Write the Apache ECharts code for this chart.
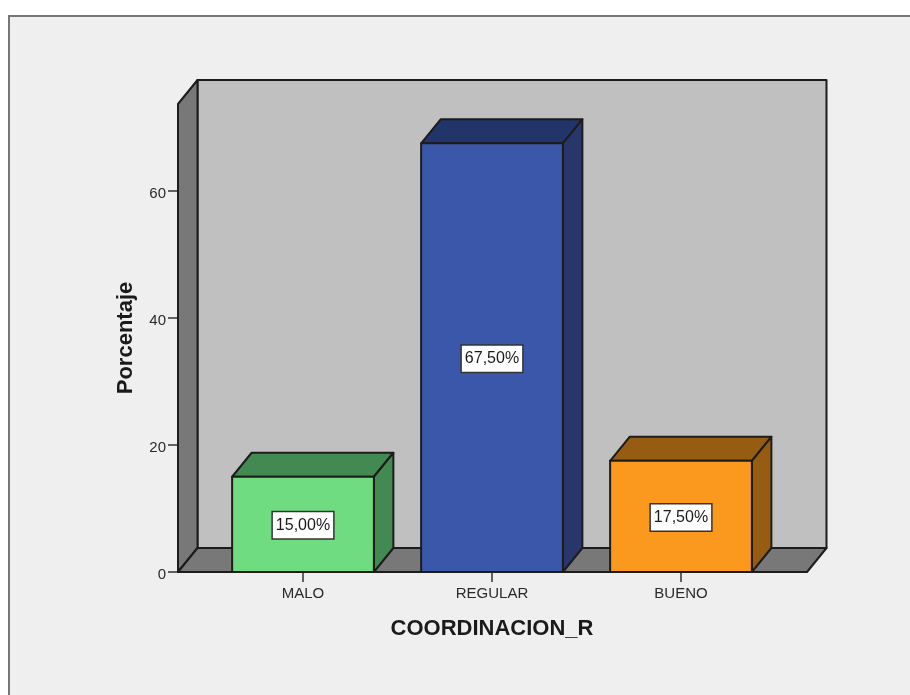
<!DOCTYPE html>
<html>
<head>
<meta charset="utf-8">
<style>html,body{margin:0;padding:0;background:#fff}#c{width:910px;height:695px}</style>
<script src="https://cdn.jsdelivr.net/npm/echarts@6/dist/echarts.min.js"></script>
</head>
<body>
<div id="c"></div>
<script>
var categories = ['MALO', 'REGULAR', 'BUENO'];
var percentages = [15.0, 67.5, 17.5];
var frontColors = ['#70dc82', '#3b57a9', '#fb991f'];
var topColors = ['#438a52', '#22356b', '#955c12'];
var sideColors = ['#438a52', '#28366b', '#955c12'];
var yTicks = [0, 20, 40, 60];
var yMax = 73.7;

var DX = 19.5, DY = -24, EDGE = '#1c1c1c', LW = 2;
var LEFT_EXT = 30.5, RIGHT_EXT = 31.5;

var chart = echarts.init(document.getElementById('c'), null, {renderer: 'canvas'});

function poly(pts, fill) {
  return {type: 'polygon', shape: {points: pts},
    style: {fill: fill, stroke: EDGE, lineWidth: LW, lineJoin: 'round'}};
}

function renderWalls(params, api) {
  var cs = params.coordSys;
  var x0 = cs.x - LEFT_EXT, x1 = cs.x + cs.width + RIGHT_EXT;
  var yT = cs.y, yB = cs.y + cs.height;
  return {type: 'group', children: [
    poly([[x0 + DX, yT + DY], [x1 + DX, yT + DY], [x1 + DX, yB + DY], [x0 + DX, yB + DY]], '#c0c0c0'),
    poly([[x0, yT], [x0 + DX, yT + DY], [x0 + DX, yB + DY], [x0, yB]], '#787878'),
    poly([[x0, yB], [x0 + DX, yB + DY], [x1 + DX, yB + DY], [x1, yB]], '#787878')
  ]};
}

function renderBar(params, api) {
  var i = api.value(0), v = api.value(1);
  var base = api.coord([i, 0]), top = api.coord([i, v]);
  var w = api.size([1, 0])[0] * 0.75;
  var l = base[0] - w / 2, r = base[0] + w / 2, yT = top[1], yB = base[1];
  return {type: 'group', children: [
    poly([[l, yT], [l + DX, yT + DY], [r + DX, yT + DY], [r, yT]], topColors[i]),
    poly([[r, yT], [r + DX, yT + DY], [r + DX, yB + DY], [r, yB]], sideColors[i]),
    poly([[l, yT], [r, yT], [r, yB], [l, yB]], frontColors[i]),
    {type: 'text', z2: 10, x: base[0], y: (yT + yB) / 2 + 1,
      style: {text: v.toFixed(2).replace('.', ',') + '%', align: 'center', verticalAlign: 'middle',
        font: '16px "Liberation Sans", Arial, sans-serif', fill: '#1a1a1a',
        backgroundColor: '#ffffff', borderColor: '#333333', borderWidth: 1.5, padding: [5, 3, 5, 3]}}
  ]};
}

chart.setOption({
  backgroundColor: '#ffffff',
  animation: false,
  textStyle: {fontFamily: '"Liberation Sans", Arial, sans-serif'},
  graphic: [
    {type: 'rect', silent: true, z: -10, shape: {x: 9, y: 16, width: 901, height: 679}, style: {fill: '#efefef'}},
    {type: 'polyline', silent: true, z: -9, shape: {points: [[9, 695], [9, 16], [910, 16]]},
      style: {fill: null, stroke: '#777777', lineWidth: 2}}
  ],
  grid: {left: 208.5, top: 104, width: 567, height: 468},
  xAxis: {
    type: 'category', data: categories,
    name: 'COORDINACION_R', nameLocation: 'center', nameGap: 46,
    nameTextStyle: {fontSize: 22, fontWeight: 'bold', color: '#1a1a1a'},
    axisLine: {show: false},
    axisTick: {show: true, alignWithLabel: true, length: 10, lineStyle: {color: '#333333', width: 1.5}},
    axisLabel: {fontSize: 15, color: '#2a2a2a', margin: 14},
    splitLine: {show: false}
  },
  yAxis: {
    type: 'value', min: 0, max: yMax, interval: 20, offset: LEFT_EXT,
    name: 'Porcentaje', nameLocation: 'center', nameGap: 41,
    nameTextStyle: {fontSize: 22, fontWeight: 'bold', color: '#1a1a1a'},
    axisLine: {show: false},
    axisTick: {show: true, length: 10, customValues: yTicks, lineStyle: {color: '#333333', width: 1.5}},
    axisLabel: {fontSize: 15, color: '#2a2a2a', margin: 12, verticalAlign: 'top', lineHeight: 5, customValues: yTicks},
    splitLine: {show: false}
  },
  series: [
    {type: 'custom', z: 1, silent: true, clip: false, renderItem: renderWalls, data: [[0, 0]]},
    {type: 'custom', z: 2, silent: true, clip: false, renderItem: renderBar,
      encode: {x: 0, y: 1},
      data: categories.map(function (c, i) { return [i, percentages[i]]; })}
  ]
});
</script>
</body>
</html>
